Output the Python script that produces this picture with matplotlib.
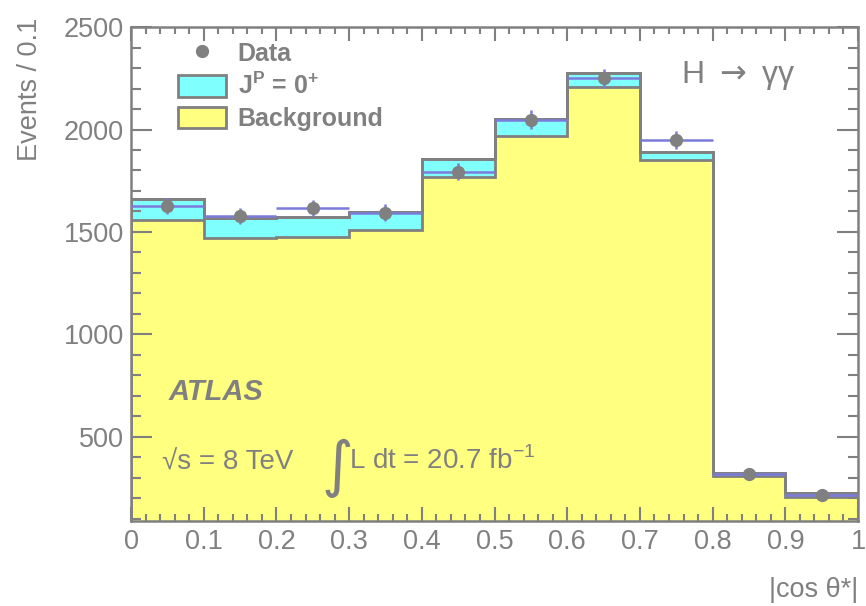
import numpy as np
import matplotlib
matplotlib.use('Agg')
import matplotlib.pyplot as plt
from matplotlib.patches import Rectangle
from matplotlib.lines import Line2D
from matplotlib.ticker import MultipleLocator

# Données
bins = [0.0, 0.1, 0.2, 0.3, 0.4, 0.5, 0.6, 0.7, 0.8, 0.9, 1.0]
background = [1559, 1469, 1477, 1510, 1770, 1970, 2209, 1851, 310, 207]
total_0p = [1660, 1570, 1575, 1598, 1855, 2050, 2277, 1889, 326, 228]
data = [1628, 1578, 1618, 1595, 1795, 2048, 2250, 1948, 320, 215]
data_err = [40, 40, 40, 40, 42, 45, 47, 44, 18, 15]

gris = '#808080'
violet = '#7b7bdc'
cyan = '#80ffff'
jaune = '#ffff80'

plt.rcParams['font.family'] = ['Liberation Sans', 'DejaVu Sans']

fig = plt.figure(figsize=(8.66, 6.06), dpi=100)
ax = fig.add_axes([0.1513, 0.1403, 0.8395, 0.8151])

centres = 0.5 * (np.array(bins[:-1]) + np.array(bins[1:]))
largeur = 0.05

ax.stairs(total_0p, bins, baseline=0, fill=True, facecolor=cyan,
          edgecolor=gris, linewidth=2)
ax.stairs(background, bins, baseline=0, fill=True, facecolor=jaune,
          edgecolor=gris, linewidth=2)
ax.stairs(total_0p, bins, baseline=None, color=gris, linewidth=2)

ax.errorbar(centres, data, xerr=largeur, yerr=data_err, fmt='o',
            color=gris, ecolor=violet, elinewidth=1.8, markersize=8.5,
            capsize=0, zorder=5)

ax.set_xlim(0, 1)
ax.set_ylim(90, 2500)

ax.xaxis.set_major_locator(MultipleLocator(0.1))
ax.xaxis.set_minor_locator(MultipleLocator(0.02))
ax.yaxis.set_major_locator(MultipleLocator(500))
ax.yaxis.set_minor_locator(MultipleLocator(100))
ax.set_xticks(np.arange(0, 1.01, 0.1))
ax.set_xticklabels(['0', '0.1', '0.2', '0.3', '0.4', '0.5', '0.6', '0.7',
                    '0.8', '0.9', '1'])
ax.set_yticks([500, 1000, 1500, 2000, 2500])

ax.tick_params(axis='both', which='both', direction='in', top=True,
               right=True, colors=gris, width=1.5, labelsize=19.5,
               labelcolor=gris)
ax.tick_params(axis='x', which='major', length=10, pad=6)
ax.tick_params(axis='x', which='minor', length=5)
ax.tick_params(axis='y', which='major', length=15, pad=5)
ax.tick_params(axis='y', which='minor', length=7.5)
for s in ax.spines.values():
    s.set_color(gris)
    s.set_linewidth(1.8)

# Légende
poignees = [
    Line2D([], [], marker='o', linestyle='none', color=gris, markersize=8.5),
    Rectangle((0, 0), 1, 1, facecolor=cyan, edgecolor=gris, linewidth=2),
    Rectangle((0, 0), 1, 1, facecolor=jaune, edgecolor=gris, linewidth=2),
]
leg = ax.legend(poignees, ['Data', r'J$^{\mathregular{P}}$ = 0$^{\mathregular{+}}$', 'Background'],
                loc='upper left', bbox_to_anchor=(0.033, 1.017), frameon=False,
                prop={'weight': 'bold', 'size': 18}, handlelength=1.95,
                handleheight=0.95, handletextpad=0.45, labelspacing=0.3)
for t in leg.get_texts():
    t.set_color(gris)

# Textes
ax.text(0.913, 0.935, 'H $\\rightarrow$ γγ', transform=ax.transAxes,
        ha='right', va='top', fontsize=23, color=gris)
ax.text(0.051, 0.245, 'ATLAS', transform=ax.transAxes, fontsize=21,
        fontweight='bold', fontstyle='italic', color=gris)
ax.text(0.043, 0.105, '√s = 8 TeV', transform=ax.transAxes, fontsize=20,
        color=gris)
ax.text(0.262, 0.072, '∫', transform=ax.transAxes, fontsize=44, color=gris,
        family=['DejaVu Sans'])
ax.text(0.3, 0.105, r'L dt = 20.7 fb$^{\mathregular{-1}}$', transform=ax.transAxes,
        fontsize=20, color=gris)

fig.text(30 / 866, 1 - 18 / 606, 'Events / 0.1', rotation=90, ha='center',
         va='top', fontsize=19.5, color=gris)
fig.text(858 / 866, 1 - 590 / 606, '|cos θ*|', ha='right', va='center',
         fontsize=19.5, color=gris)

plt.savefig('out.png', dpi=100)
